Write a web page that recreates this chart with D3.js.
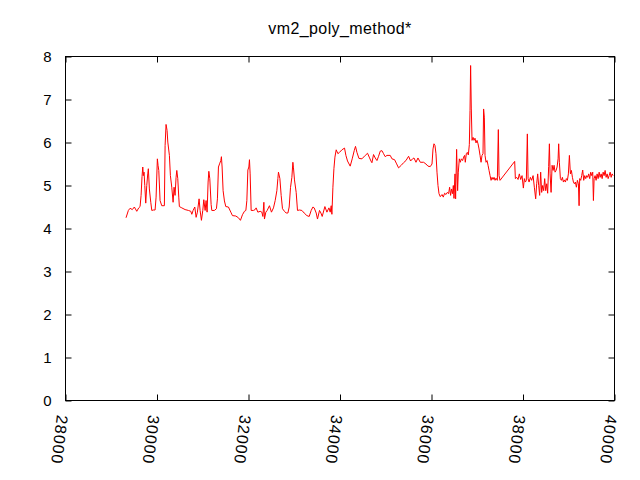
<!DOCTYPE html>
<html>
<head>
<meta charset="utf-8">
<script src="https://cdn.jsdelivr.net/npm/d3@7"></script>
<style>
html,body{margin:0;padding:0;background:#fff;}
svg{display:block;}
text{font-family:"Liberation Sans",Arial,sans-serif;}
</style>
</head>
<body>
<svg id="chart" width="640" height="480"></svg>
<script>
const chartTitle = "vm2_poly_method*";
const xTicks = [28000,30000,32000,34000,36000,38000,40000];
const yTicks = [0,1,2,3,4,5,6,7,8];
const xValues = [29323,29374,29411,29461,29505,29558,29601,29630,29652,29673,29689,29702,29717,29733,29754,29776,29798,29811,29833,29864,29886,29921,29958,29980,30008,30023,30039,30067,30104,30161,30177,30198,30220,30236,30271,30293,30323,30352,30373,30395,30417,30433,30454,30476,30489,30542,30614,30686,30739,30761,30789,30826,30855,30883,30920,30942,30971,31001,31023,31052,31073,31095,31117,31133,31154,31183,31198,31255,31299,31321,31343,31373,31395,31408,31423,31445,31474,31504,31561,31614,31649,31723,31780,31824,31868,31911,31942,31964,31986,32008,32021,32036,32058,32108,32145,32167,32204,32255,32292,32314,32336,32349,32379,32408,32458,32502,32546,32583,32620,32642,32655,32686,32714,32743,32786,32823,32861,32889,32918,32948,32970,32983,33005,33042,33071,33114,33167,33217,33276,33327,33370,33408,33436,33480,33508,33552,33583,33611,33670,33714,33758,33786,33808,33823,33845,33867,33889,33917,33954,33989,34042,34099,34129,34164,34223,34267,34311,34339,34370,34414,34479,34552,34602,34639,34676,34698,34733,34770,34808,34843,34880,34917,34952,34989,35026,35098,35136,35193,35230,35280,35339,35389,35442,35499,35543,35586,35617,35661,35704,35755,35827,35879,35923,35973,36011,36033,36054,36076,36098,36120,36142,36164,36192,36230,36258,36286,36317,36345,36374,36396,36418,36439,36461,36477,36492,36514,36527,36549,36571,36586,36608,36630,36652,36680,36702,36724,36739,36761,36783,36805,36827,36842,36855,36870,36886,36908,36929,36951,36973,36995,37017,37039,37061,37083,37104,37126,37139,37155,37170,37192,37214,37236,37258,37280,37302,37323,37345,37367,37389,37411,37439,37461,37476,37498,37818,37833,37861,37892,37920,37949,37979,38008,38030,38052,38073,38095,38111,38133,38161,38189,38220,38248,38277,38299,38321,38343,38364,38386,38408,38430,38452,38474,38496,38518,38539,38561,38577,38592,38614,38636,38658,38679,38701,38723,38745,38767,38780,38795,38817,38839,38861,38883,38905,38927,38948,38970,38992,39014,39036,39058,39080,39102,39123,39145,39167,39189,39211,39226,39239,39261,39283,39305,39327,39349,39371,39393,39414,39436,39458,39480,39502,39524,39539,39554,39576,39598,39620,39642,39664,39686,39708,39730,39752,39773,39795,39817,39839,39861,39883,39905,39927,39948,39970];
const yValues = [4.25,4.42,4.47,4.44,4.50,4.40,4.48,4.51,4.77,5.21,
5.43,5.23,5.31,5.00,4.59,5.00,5.27,5.39,4.92,4.61,
4.42,4.43,4.43,4.73,5.62,5.47,5.35,4.65,4.53,4.53,
5.93,6.42,6.28,6.01,5.70,5.23,4.96,4.61,4.96,4.77,
5.19,5.35,5.16,4.73,4.51,4.48,4.44,4.42,4.40,4.33,
4.42,4.50,4.26,4.38,4.69,4.42,4.19,4.42,4.67,4.42,
4.65,4.38,5.08,5.33,5.16,4.56,4.42,4.42,4.46,4.69,
5.43,5.52,5.58,5.67,5.43,4.88,4.64,4.51,4.50,4.38,
4.30,4.29,4.25,4.19,4.32,4.40,4.42,4.65,5.36,5.43,
5.60,5.27,4.42,4.42,4.44,4.48,4.38,4.40,4.38,4.28,
4.61,4.22,4.38,4.42,4.53,4.38,4.48,4.65,4.88,5.16,
5.31,5.16,4.77,4.46,4.40,4.36,4.36,4.50,4.95,5.19,
5.54,5.41,5.13,4.84,4.42,4.43,4.42,4.36,4.30,4.28,
4.42,4.50,4.48,4.36,4.22,4.42,4.36,4.28,4.51,4.38,
4.48,4.38,4.53,4.33,4.96,5.39,5.66,5.83,5.74,5.77,
5.83,5.87,5.70,5.57,5.45,5.62,5.81,5.91,5.77,5.63,
5.62,5.70,5.75,5.66,5.57,5.53,5.72,5.64,5.58,5.68,
5.80,5.81,5.74,5.67,5.70,5.70,5.62,5.60,5.52,5.41,
5.47,5.53,5.58,5.68,5.57,5.62,5.64,5.54,5.64,5.54,
5.54,5.50,5.45,5.44,5.50,5.85,5.97,5.93,5.74,5.31,
5.00,4.81,4.74,4.79,4.73,4.82,4.79,4.84,4.81,4.96,
4.77,4.92,4.81,5.00,4.70,5.27,4.69,5.84,4.88,5.31,
5.62,5.54,5.62,5.58,5.66,5.70,5.54,5.74,5.77,5.71,
5.95,6.74,7.79,6.78,6.05,6.12,6.05,6.10,5.99,6.05,
5.97,5.85,5.70,5.54,5.70,5.74,6.78,6.59,5.70,5.54,
5.58,5.47,5.35,5.23,5.12,5.19,5.14,5.19,5.12,5.17,
5.12,6.30,5.23,5.12,5.56,5.16,5.19,5.14,5.27,5.14,
5.23,4.94,5.16,5.08,5.12,6.20,5.16,5.08,5.19,5.12,
5.23,4.96,4.69,5.04,5.27,5.00,4.77,5.31,4.84,5.00,
4.88,5.16,4.88,5.04,4.82,5.44,5.97,5.27,4.84,5.47,
5.35,5.47,5.31,5.35,5.43,5.62,5.97,5.54,5.16,5.12,
5.19,5.08,5.13,5.08,5.16,5.12,5.27,5.70,5.27,5.35,
5.19,5.08,5.04,5.08,4.96,5.12,5.04,4.53,5.16,5.12,
5.23,5.36,5.12,5.23,5.16,5.23,5.19,5.27,5.16,5.31,
5.23,5.31,4.65,5.16,5.23,5.12,5.27,5.16,5.31,5.19,
5.27,5.16,5.31,5.23,5.35,5.19,5.27,5.16,5.23,5.31,
5.19,5.27,5.23];

const svg = d3.select("#chart");
const L = 65.5, R = 614.5, T = 56.5, B = 400.5;
const x = d3.scaleLinear().domain([28000, 40000]).range([L, R]);
const y = d3.scaleLinear().domain([0, 8]).range([B, T]);
const n = Math.min(xValues.length, yValues.length);
const data = d3.range(n).map(i => ({x: xValues[i], y: yValues[i]}));

svg.append("text").attr("x", 340).attr("y", 34).attr("text-anchor", "middle")
  .style("font-size", "16px").style("letter-spacing", "0.4px").attr("fill", "#000").text(chartTitle);

// line
svg.append("path").datum(data)
  .attr("fill", "none").attr("stroke", "#ff0000").attr("stroke-width", 1)
  .attr("d", d3.line().x(d => x(d.x)).y(d => y(d.y)));

// axes
const gB = svg.append("g").attr("transform", `translate(0,${B})`)
  .call(d3.axisBottom(x).tickValues(xTicks).tickSize(-6).tickSizeOuter(0).tickFormat(d3.format("d")));
const gT = svg.append("g").attr("transform", `translate(0,${T})`)
  .call(d3.axisTop(x).tickValues(xTicks).tickSize(-6).tickSizeOuter(0).tickFormat(""));
const gL = svg.append("g").attr("transform", `translate(${L},0)`)
  .call(d3.axisLeft(y).tickValues(yTicks).tickSize(-6).tickSizeOuter(0).tickPadding(14).tickFormat(d3.format("d")));
const gR = svg.append("g").attr("transform", `translate(${R},0)`)
  .call(d3.axisRight(y).tickValues(yTicks).tickSize(-6).tickSizeOuter(0).tickFormat(""));
[gB, gT, gL, gR].forEach(g => {
  g.select(".domain").remove();
  g.selectAll("line").attr("stroke", "#000");
  g.selectAll("text").attr("fill", "#000").attr("font-family", null);
});
gL.selectAll(".tick text").style("font-size", "15px").attr("dy", "0.35em");
gB.selectAll(".tick text")
  .style("font-size", "16px").style("letter-spacing", "1px")
  .attr("text-anchor", "start").attr("dy", null)
  .attr("transform", "translate(-9,14) rotate(97)")
  .attr("x", 0).attr("y", 0);

svg.append("rect").attr("x", L).attr("y", T).attr("width", R - L).attr("height", B - T)
  .attr("fill", "none").attr("stroke", "#000").attr("stroke-width", 1);
</script>
</body>
</html>
